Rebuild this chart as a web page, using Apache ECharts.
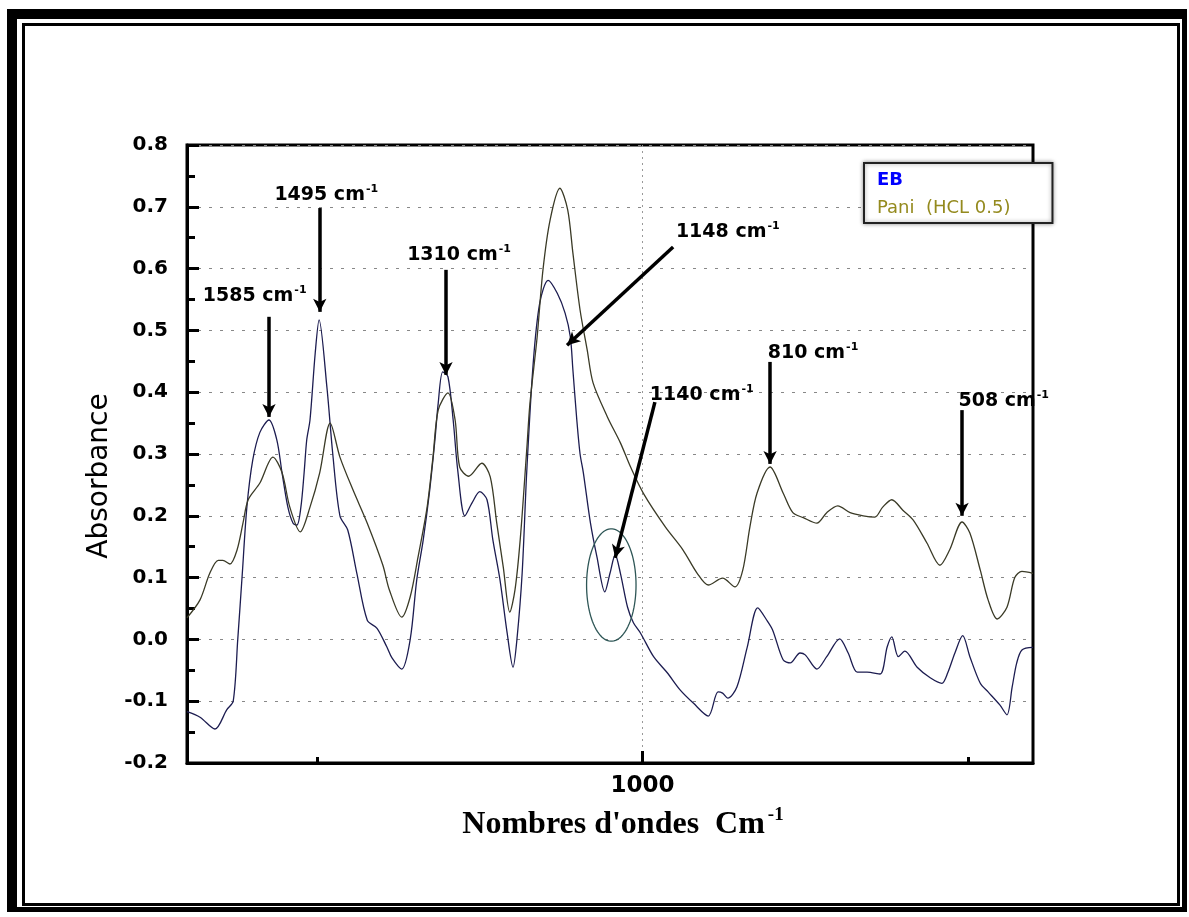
<!DOCTYPE html>
<html>
<head>
<meta charset="utf-8">
<script src="https://cdn.jsdelivr.net/npm/echarts@6/dist/echarts.min.js"></script>
<style>
  html, body { margin: 0; padding: 0; background: #fff; }
  #chart { width: 1189px; height: 917px; }
</style>
</head>
<body>
<div id="chart"></div>
<script>
// FTIR spectra: wavenumber (cm-1) and absorbance for each sample
const ebWavenumber = [1700, 1680, 1657, 1639, 1629, 1622, 1615, 1608, 1599, 1588, 1574, 1562, 1554, 1545, 1537, 1531, 1525, 1520, 1516, 1511, 1503, 1497, 1485, 1476, 1465, 1453, 1439, 1423, 1408, 1393, 1385, 1370, 1357, 1347, 1337, 1327, 1319, 1314, 1307, 1299, 1291, 1284, 1273, 1262, 1250, 1239, 1230, 1219, 1208, 1199, 1193, 1185, 1178, 1168, 1158, 1145, 1131, 1119, 1111, 1107, 1101, 1096, 1091, 1080, 1070, 1058, 1050, 1042, 1034, 1023, 1014, 1003, 983, 962, 942, 922, 899, 884, 877, 869, 855, 839, 823, 809, 800, 784, 773, 758, 750, 732, 717, 697, 684, 670, 655, 635, 624, 617, 607, 597, 578, 558, 540, 531, 520, 508, 497, 481, 469, 451, 440, 432, 425, 417, 400];
const ebAbsorbance = [-0.117, -0.126, -0.145, -0.114, -0.100, 0.000, 0.107, 0.214, 0.290, 0.335, 0.355, 0.323, 0.270, 0.214, 0.188, 0.185, 0.214, 0.270, 0.323, 0.355, 0.463, 0.517, 0.408, 0.300, 0.200, 0.177, 0.107, 0.031, 0.018, -0.012, -0.030, -0.048, 0.000, 0.096, 0.161, 0.242, 0.323, 0.382, 0.433, 0.425, 0.355, 0.274, 0.200, 0.221, 0.239, 0.226, 0.161, 0.096, 0.010, -0.045, 0.000, 0.107, 0.270, 0.447, 0.544, 0.581, 0.560, 0.528, 0.490, 0.436, 0.355, 0.300, 0.270, 0.188, 0.133, 0.077, 0.107, 0.137, 0.107, 0.052, 0.027, 0.010, -0.028, -0.054, -0.082, -0.103, -0.124, -0.085, -0.087, -0.095, -0.077, -0.012, 0.051, 0.031, 0.015, -0.033, -0.038, -0.022, -0.025, -0.048, -0.028, 0.001, -0.022, -0.053, -0.053, -0.056, -0.012, 0.004, -0.028, -0.019, -0.045, -0.062, -0.071, -0.054, -0.022, 0.006, -0.028, -0.071, -0.085, -0.106, -0.122, -0.077, -0.038, -0.017, -0.013];

const paniWavenumber = [1700, 1680, 1665, 1652, 1645, 1634, 1623, 1614, 1606, 1588, 1568, 1554, 1542, 1526, 1511, 1496, 1480, 1465, 1445, 1423, 1399, 1389, 1370, 1357, 1345, 1331, 1322, 1314, 1299, 1288, 1281, 1267, 1247, 1234, 1224, 1214, 1204, 1196, 1188, 1178, 1173, 1162, 1153, 1142, 1127, 1115, 1107, 1096, 1085, 1076, 1054, 1034, 1018, 998, 965, 938, 916, 899, 877, 858, 846, 835, 824, 804, 784, 769, 753, 732, 717, 700, 681, 661, 643, 631, 617, 600, 584, 563, 543, 528, 509, 497, 481, 469, 455, 440, 428, 417, 400];
const paniAbsorbance = [0.035, 0.064, 0.107, 0.128, 0.128, 0.122, 0.145, 0.188, 0.226, 0.253, 0.295, 0.270, 0.214, 0.174, 0.214, 0.270, 0.350, 0.295, 0.242, 0.188, 0.120, 0.080, 0.036, 0.069, 0.133, 0.214, 0.295, 0.371, 0.399, 0.355, 0.279, 0.264, 0.285, 0.263, 0.188, 0.117, 0.044, 0.080, 0.161, 0.306, 0.382, 0.489, 0.598, 0.679, 0.730, 0.695, 0.625, 0.533, 0.468, 0.415, 0.360, 0.318, 0.278, 0.235, 0.182, 0.145, 0.107, 0.088, 0.099, 0.085, 0.112, 0.182, 0.237, 0.279, 0.237, 0.205, 0.197, 0.188, 0.205, 0.216, 0.205, 0.200, 0.198, 0.214, 0.226, 0.209, 0.193, 0.156, 0.120, 0.145, 0.190, 0.172, 0.112, 0.064, 0.033, 0.052, 0.100, 0.110, 0.107];

const seriesNames = ['EB', 'Pani  (HCL 0.5)'];

// Axis ranges and ticks
const xMin = 400, xMax = 1700;
const xMajorTicks = [1000];
const xMinorTicks = [500, 1500];
const yMin = -0.2, yMax = 0.8, yStep = 0.1;

// Band assignments: label text, label position, arrow tail, arrow head (wavenumber, absorbance)
const peakLabels = ['1585', '1495', '1310', '1148', '1140', '810', '508'];
const peakLabelAt = [[1596, 0.556], [1486, 0.719], [1282, 0.622], [869, 0.659], [909, 0.395], [738, 0.463], [445, 0.386]];
const arrowTail = [[1574, 0.522], [1496, 0.698], [1302, 0.598], [953, 0.635], [981, 0.384], [804, 0.449], [509, 0.371]];
const arrowHead = [[1574, 0.360], [1496, 0.530], [1302, 0.428], [1116, 0.476], [1042, 0.132], [804, 0.284], [509, 0.200]];

// Highlighted region around the 1140 cm-1 shoulder: centre and half-axes (data units)
const highlightEllipse = [[1048, 0.088, 38, 0.091]];

const zip = (xs, ys) => xs.map((x, i) => [x, ys[i]]);

const sansFont = 'DejaVu Sans';
const supRich = {
  a: { fontFamily: sansFont, fontWeight: 'bold', fontSize: 19, color: '#000' },
  s: { fontFamily: sansFont, fontWeight: 'bold', fontSize: 11, color: '#000', padding: [0, 0, 12, 1] }
};

const chart = echarts.init(document.getElementById('chart'), null, { renderer: 'canvas' });

chart.setOption({
  animation: false,
  backgroundColor: '#fff',
  graphic: [
    { type: 'rect', silent: true, z: -10, shape: { x: 7, y: 9, width: 1180, height: 903 }, style: { fill: '#000' } },
    { type: 'rect', silent: true, z: -9, shape: { x: 17, y: 19, width: 1165, height: 888 }, style: { fill: '#fff' } },
    { type: 'rect', silent: true, z: -8, shape: { x: 23.5, y: 24.5, width: 1155, height: 880 }, style: { fill: 'none', stroke: '#000', lineWidth: 3 } }
  ],
  grid: {
    left: 187, top: 145, right: 156, bottom: 154,
    show: true, borderColor: '#000', borderWidth: 3, backgroundColor: 'transparent'
  },
  legend: {
    data: [
      { name: seriesNames[0], icon: 'none', textStyle: { color: '#0000ff', fontWeight: 'bold' } },
      { name: seriesNames[1], icon: 'none', textStyle: { color: '#948a1e' } }
    ],
    orient: 'vertical',
    left: 864, top: 163,
    itemWidth: 0, itemHeight: 18, itemGap: 10,
    padding: [8, 42, 6, 8],
    backgroundColor: '#fff',
    borderColor: '#222', borderWidth: 2,
    shadowBlur: 4, shadowColor: 'rgba(0,0,0,0.4)',
    textStyle: { fontFamily: sansFont, fontSize: 18 },
    selectedMode: false,
    z: 10
  },
  xAxis: [
    {
      type: 'value', min: xMin, max: xMax, inverse: true,
      name: "{a|Nombres d'ondes  Cm}{s|-1}",
      nameLocation: 'middle', nameGap: 43,
      nameTextStyle: {
        padding: [0, 0, 0, 26],
        rich: {
          a: { fontFamily: 'Liberation Serif', fontWeight: 'bold', fontSize: 32, color: '#000' },
          s: { fontFamily: 'Liberation Serif', fontWeight: 'bold', fontSize: 19, color: '#000', padding: [0, 0, 18, 3] }
        }
      },
      axisLine: { show: true, onZero: false, lineStyle: { color: '#000', width: 3 } },
      axisTick: { show: true, inside: true, length: 12, customValues: xMajorTicks, lineStyle: { color: '#000', width: 3 } },
      axisLabel: {
        show: true, customValues: xMajorTicks, margin: 12,
        fontFamily: sansFont, fontWeight: 'bold', fontSize: 23, color: '#000',
        formatter: v => String(v)
      },
      splitLine: { show: true, lineStyle: { color: '#999', width: 1, type: [2, 4] } }
    },
    {
      type: 'value', min: xMin, max: xMax, inverse: true, position: 'bottom',
      axisLine: { show: false, onZero: false },
      axisTick: { show: true, inside: true, length: 6, customValues: xMinorTicks, lineStyle: { color: '#000', width: 3 } },
      axisLabel: { show: false },
      splitLine: { show: false }
    }
  ],
  yAxis: {
    type: 'value', min: yMin, max: yMax, interval: yStep,
    name: 'Absorbance',
    nameLocation: 'middle', nameGap: 56,
    nameTextStyle: { fontFamily: sansFont, fontSize: 28, color: '#000', padding: [0, 44, 0, 0] },
    axisLine: { show: true, onZero: false, lineStyle: { color: '#000', width: 3 } },
    axisTick: { show: true, inside: true, length: 12, lineStyle: { color: '#000', width: 3 } },
    minorTick: { show: true, splitNumber: 2, length: 8, lineStyle: { color: '#000', width: 3 } },
    axisLabel: {
      margin: 19, fontFamily: sansFont, fontWeight: 'bold', fontSize: 20, color: '#000',
      formatter: v => (Math.abs(v) < 1e-9 ? 0 : v).toFixed(1)
    },
    splitLine: { show: true, lineStyle: { color: '#888', width: 1, type: [3, 8] } }
  },
  series: [
    {
      name: seriesNames[0], type: 'line', xAxisIndex: 0,
      data: zip(ebWavenumber, ebAbsorbance),
      smooth: 0.3, showSymbol: false, symbol: 'none',
      lineStyle: { color: '#1c1c50', width: 1.3 }, itemStyle: { color: '#1c1c50' },
      z: 3,
      markLine: {
        silent: true, symbol: ['none', 'arrow'], symbolSize: [10, 13],
        label: { show: false },
        lineStyle: { color: '#000', width: 3.5, type: 'solid' },
        emphasis: { disabled: true },
        data: arrowTail.map((t, i) => [{ coord: t }, { coord: arrowHead[i] }])
      },
      markPoint: {
        silent: true, symbol: 'circle', symbolSize: 1,
        itemStyle: { color: 'rgba(0,0,0,0)' },
        label: {
          show: true, position: 'inside',
          formatter: p => '{a|' + p.name + ' cm}{s|-1}',
          rich: supRich
        },
        data: peakLabels.map((t, i) => ({ name: t, coord: peakLabelAt[i] }))
      }
    },
    {
      name: seriesNames[1], type: 'line', xAxisIndex: 0,
      data: zip(paniWavenumber, paniAbsorbance),
      smooth: 0.3, showSymbol: false, symbol: 'none',
      lineStyle: { color: '#3a3a26', width: 1.3 }, itemStyle: { color: '#3a3a26' },
      z: 3
    },
    {
      name: 'highlight', type: 'custom', xAxisIndex: 0, silent: true, clip: false,
      data: highlightEllipse,
      renderItem: (params, api) => {
        const c = api.coord([api.value(0), api.value(1)]);
        const s = api.size([api.value(2), api.value(3)]);
        const rx = Math.abs(s[0]), ry = Math.abs(s[1]);
        const pts = [];
        for (let k = 0; k < 90; k++) {
          const a = (k / 90) * Math.PI * 2;
          pts.push([c[0] + rx * Math.cos(a), c[1] + ry * Math.sin(a)]);
        }
        return { type: 'polygon', shape: { points: pts }, style: { fill: 'none', stroke: '#2e5656', lineWidth: 1.3 } };
      },
      z: 4
    }
  ]
});
</script>
</body>
</html>
